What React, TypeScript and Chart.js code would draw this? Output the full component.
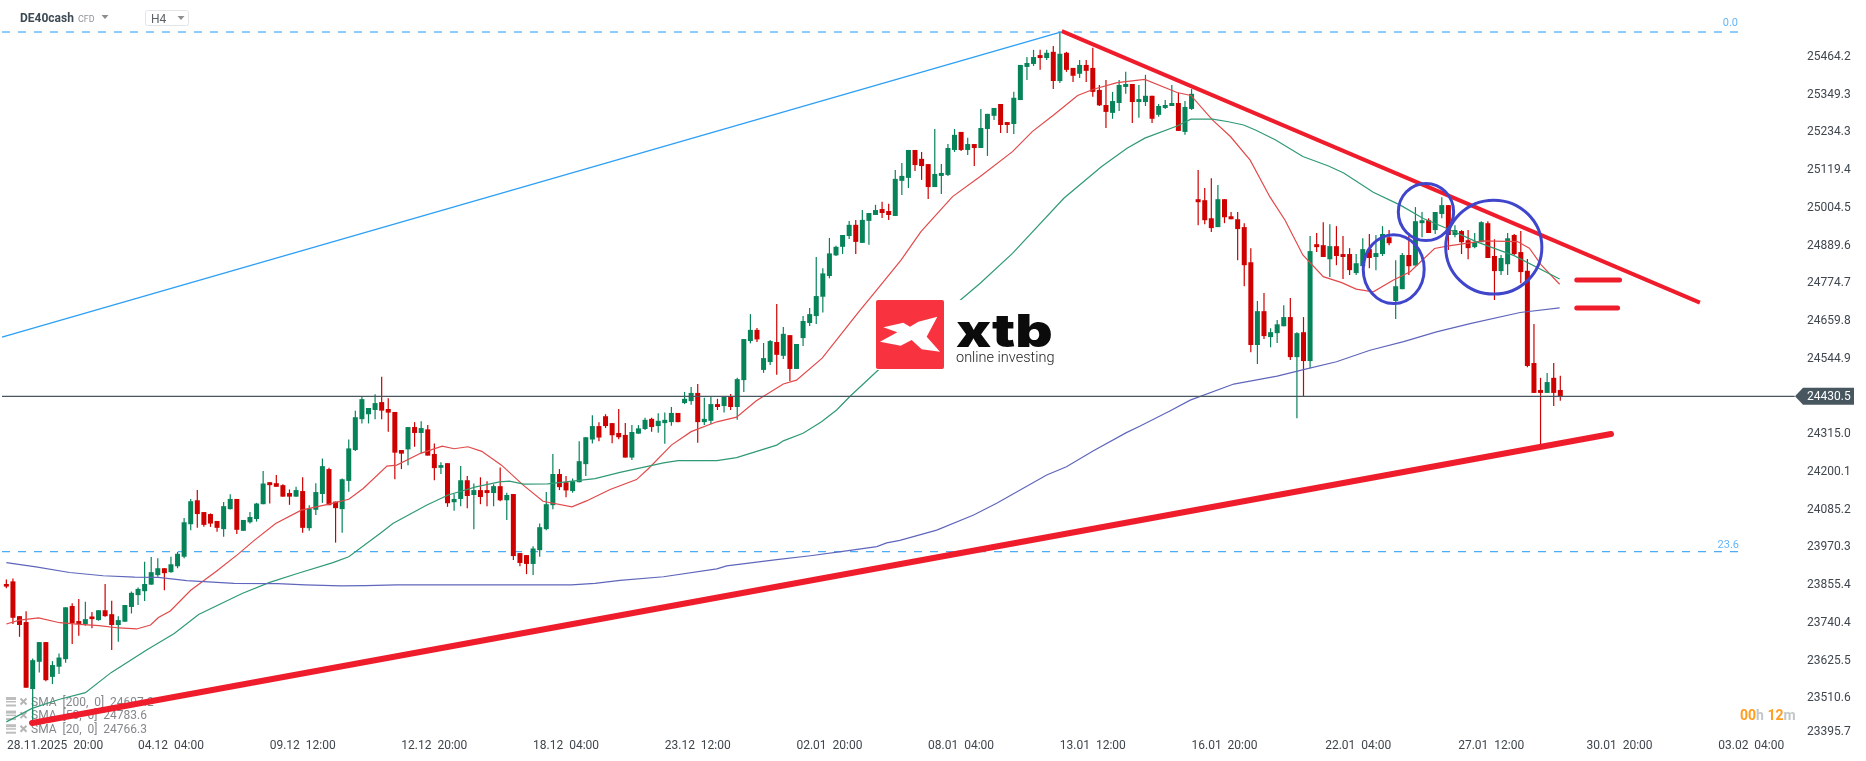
import { useEffect, useRef } from 'react';
import { Chart, registerables } from 'chart.js';

Chart.register(...registerables);

// candles, oldest first
const opens = [
  23859, 23867, 23761, 23743, 23539, 23622, 23682, 23576, 23607, 23630, 23792, 23746, 23736, 23760, 23749, 23779, 23767, 23734, 23744, 23789,
  23825, 23837, 23857, 23886, 23907, 23895, 23913, 23942, 24041, 24114, 24078, 24072, 24051, 24026, 24087, 24118, 24021, 24047, 24057, 24102,
  24169, 24166, 24160, 24136, 24125, 24142, 24029, 24085, 24133, 24209, 24110, 24087, 24173, 24267, 24361, 24376, 24389, 24413, 24392, 24383,
  24267, 24269, 24337, 24319, 24330, 24255, 24213, 24227, 24108, 24118, 24175, 24130, 24145, 24145, 24136, 24157, 24114, 24133, 23953, 23947,
  23920, 23962, 24026, 24099, 24194, 24169, 24142, 24169, 24224, 24299, 24340, 24370, 24349, 24319, 24313, 24244, 24317, 24331, 24362, 24340,
  24349, 24352, 24380, 24410, 24416, 24441, 24352, 24356, 24407, 24401, 24430, 24398, 24480, 24599, 24633, 24511, 24535, 24596, 24554, 24617,
  24514, 24608, 24654, 24675, 24734, 24797, 24860, 24886, 24919, 24953, 24898, 24965, 24983, 25001, 24995, 24980, 25087, 25096, 25181, 25154,
  25138, 25068, 25102, 25105, 25181, 25236, 25181, 25199, 25187, 25245, 25285, 25321, 25266, 25260, 25333, 25434, 25443, 25470, 25461, 25480,
  25391, 25477, 25431, 25413, 25440, 25431, 25364, 25318, 25294, 25324, 25373, 25382, 25327, 25327, 25346, 25288, 25309, 25315, 25324, 25236,
  25306, 25031, 25028, 24973, 24946, 25031, 24979, 24970, 24946, 24839, 24587, 24690, 24611, 24623, 24644, 24672, 24550, 24626, 24538, 24894,
  24891, 24848, 24888, 24864, 24864, 24806, 24827, 24879, 24855, 24864, 24915, 24721, 24757, 24861, 24829, 24958, 24967, 24937, 24986, 25013,
  24922, 24934, 24906, 24885, 24900, 24958, 24858, 24812, 24833, 24922, 24870, 24813, 24532, 24450, 24441, 24487, 24450,
];
const closes = [
  23851, 23756, 23734, 23543, 23627, 23682, 23566, 23612, 23635, 23788, 23739, 23737, 23752, 23752, 23779, 23761, 23734, 23749, 23795, 23832,
  23844, 23859, 23895, 23907, 23892, 23919, 23951, 24047, 24111, 24072, 24039, 24043, 24030, 24096, 24118, 24024, 24054, 24063, 24104, 24165,
  24160, 24155, 24125, 24125, 24145, 24030, 24089, 24139, 24218, 24099, 24090, 24178, 24272, 24367, 24422, 24395, 24410, 24387, 24381, 24259,
  24256, 24337, 24319, 24334, 24250, 24212, 24221, 24105, 24118, 24175, 24127, 24145, 24124, 24136, 24157, 24114, 24130, 23944, 23923, 23920,
  23967, 24032, 24102, 24194, 24154, 24144, 24172, 24233, 24306, 24340, 24305, 24340, 24312, 24306, 24244, 24322, 24333, 24359, 24337, 24356,
  24359, 24380, 24352, 24423, 24441, 24352, 24362, 24407, 24398, 24430, 24398, 24483, 24605, 24633, 24604, 24547, 24599, 24557, 24621, 24514,
  24590, 24660, 24681, 24736, 24805, 24866, 24886, 24922, 24953, 24901, 24968, 24989, 24998, 24989, 24983, 25093, 25102, 25181, 25135, 25132,
  25068, 25108, 25111, 25187, 25227, 25181, 25199, 25187, 25248, 25291, 25309, 25257, 25257, 25340, 25440, 25446, 25464, 25461, 25477, 25391,
  25474, 25425, 25407, 25440, 25422, 25358, 25317, 25297, 25330, 25379, 25382, 25327, 25336, 25346, 25276, 25315, 25318, 25324, 25239, 25312,
  25352, 25022, 24967, 24943, 25031, 24976, 24970, 24940, 24830, 24587, 24690, 24614, 24626, 24650, 24672, 24550, 24623, 24538, 24873, 24885,
  24855, 24888, 24858, 24855, 24815, 24836, 24879, 24852, 24867, 24925, 24897, 24766, 24861, 24827, 24964, 24967, 24928, 24992, 25013, 24922,
  24937, 24900, 24882, 24900, 24961, 24852, 24812, 24852, 24912, 24864, 24809, 24523, 24441, 24441, 24474, 24441, 24431,
];
const highs = [
  23873, 23876, 23761, 23776, 23632, 23682, 23682, 23624, 23647, 23788, 23800, 23813, 23805, 23774, 23779, 23859, 23808, 23761, 23795, 23836,
  23848, 23927, 23941, 23937, 23907, 23942, 23957, 24060, 24118, 24145, 24078, 24074, 24051, 24109, 24132, 24118, 24054, 24078, 24106, 24203,
  24169, 24191, 24163, 24147, 24155, 24184, 24099, 24166, 24241, 24213, 24110, 24180, 24299, 24387, 24429, 24395, 24437, 24490, 24425, 24383,
  24267, 24337, 24352, 24355, 24343, 24287, 24230, 24227, 24133, 24218, 24188, 24165, 24184, 24172, 24163, 24214, 24137, 24133, 23953, 23947,
  23974, 24043, 24139, 24255, 24209, 24188, 24180, 24294, 24306, 24373, 24352, 24376, 24349, 24392, 24349, 24343, 24343, 24365, 24365, 24379,
  24381, 24398, 24380, 24444, 24459, 24468, 24426, 24429, 24423, 24430, 24438, 24487, 24605, 24681, 24639, 24593, 24602, 24712, 24642, 24617,
  24590, 24675, 24700, 24855, 24821, 24913, 24889, 24922, 24965, 24968, 24998, 24989, 25014, 25023, 25017, 25120, 25141, 25181, 25181, 25175,
  25138, 25245, 25138, 25199, 25245, 25236, 25218, 25199, 25306, 25291, 25309, 25321, 25266, 25358, 25440, 25464, 25486, 25486, 25486, 25498,
  25541, 25480, 25431, 25455, 25455, 25492, 25379, 25394, 25358, 25394, 25419, 25382, 25379, 25410, 25346, 25321, 25333, 25379, 25355, 25330,
  25367, 25120, 25065, 25095, 25074, 25031, 24992, 24992, 24958, 24882, 24721, 24745, 24638, 24663, 24708, 24730, 24626, 24672, 24919, 24928,
  24961, 24955, 24949, 24919, 24882, 24864, 24912, 24925, 24922, 24949, 24937, 24845, 24867, 24919, 25007, 24992, 24973, 24992, 25037, 25013,
  24952, 24937, 24937, 24928, 24964, 24964, 24909, 24861, 24928, 24925, 24934, 24849, 24651, 24487, 24502, 24532, 24493,
];
const lows = [
  23846, 23737, 23698, 23543, 23444, 23589, 23563, 23554, 23585, 23619, 23676, 23701, 23732, 23724, 23747, 23759, 23658, 23683, 23744, 23769,
  23795, 23807, 23857, 23881, 23840, 23893, 23907, 23937, 24023, 24030, 24033, 24033, 24018, 24003, 24086, 24011, 24020, 24043, 24049, 24102,
  24104, 24155, 24125, 24100, 24125, 24015, 24021, 24069, 24106, 24099, 23985, 24015, 24140, 24264, 24348, 24348, 24361, 24361, 24323, 24178,
  24209, 24221, 24277, 24257, 24250, 24175, 24194, 24094, 24082, 24096, 24090, 24026, 24102, 24096, 24096, 24111, 24054, 23932, 23913, 23889,
  23886, 23942, 24023, 24087, 24145, 24123, 24137, 24169, 24188, 24287, 24294, 24334, 24288, 24300, 24244, 24237, 24316, 24328, 24323, 24320,
  24286, 24341, 24352, 24407, 24405, 24289, 24343, 24346, 24389, 24381, 24389, 24359, 24444, 24592, 24596, 24502, 24526, 24496, 24544, 24477,
  24514, 24584, 24645, 24651, 24686, 24790, 24858, 24864, 24910, 24864, 24898, 24892, 24983, 24974, 24968, 24980, 25044, 25065, 25117, 25090,
  25032, 25068, 25047, 25102, 25175, 25178, 25166, 25132, 25187, 25163, 25272, 25233, 25233, 25230, 25333, 25394, 25437, 25425, 25455, 25367,
  25385, 25419, 25388, 25400, 25388, 25343, 25315, 25248, 25276, 25300, 25352, 25263, 25279, 25315, 25263, 25282, 25306, 25315, 25239, 25227,
  25303, 24952, 24955, 24931, 24946, 24958, 24970, 24845, 24766, 24565, 24529, 24605, 24580, 24593, 24644, 24541, 24364, 24431, 24516, 24870,
  24855, 24794, 24830, 24788, 24800, 24800, 24827, 24821, 24815, 24858, 24891, 24666, 24757, 24800, 24829, 24915, 24928, 24925, 24973, 24876,
  24915, 24864, 24848, 24882, 24900, 24852, 24724, 24800, 24800, 24861, 24775, 24519, 24441, 24283, 24441, 24401, 24417,
];

// moving averages, read where the line bends (candle position, price)
const sma20At = [
  0, 2, 4.9, 8.1, 11.1, 14.1, 17.1, 19.8, 21.9, 23.1, 24.9, 28, 31.9, 35.2, 37.6, 40.9, 44.8, 49, 52, 54.2, 57.8, 59.3, 62.9, 66.2, 68, 70.1,
  72.2, 75.2, 78.5, 81.5, 85.9, 88.1, 91.7, 95.7, 97.5, 101, 104, 107.9, 110.9, 113.9, 118, 120, 123.9, 129.3, 132.6, 135.9, 138.9, 143.7,
  147.9, 152.8, 155.8, 159.1, 162.7, 165.1, 168.7, 172.9, 177.8, 179.9, 183.2, 185.9, 188.9, 191.9, 194.2, 196.9, 200, 202.8, 205, 207.6,
  210.6, 213.2, 216.9, 218.8, 224.3, 229.5, 231.3, 233.1, 235.9,
];
const sma20 = [
  23737, 23749, 23756, 23741, 23736, 23732, 23725, 23722, 23734, 23757, 23777, 23840, 23898, 23950, 23991, 24043, 24084, 24102, 24117, 24150,
  24218, 24221, 24257, 24279, 24271, 24277, 24263, 24221, 24160, 24111, 24094, 24112, 24147, 24177, 24210, 24282, 24323, 24353, 24367, 24417,
  24468, 24480, 24547, 24684, 24765, 24846, 24932, 25039, 25100, 25176, 25237, 25288, 25347, 25366, 25386, 25396, 25356, 25347, 25272, 25222,
  25150, 25038, 24967, 24861, 24795, 24777, 24757, 24749, 24784, 24810, 24881, 24888, 24904, 24902, 24882, 24831, 24772,
];
const sma50At = [
  0, 3.9, 8.1, 12, 15.9, 21.3, 25.5, 29.2, 35.8, 40, 44.2, 49.6, 52, 56.9, 58.7, 63.8, 67.1, 71.3, 74.9, 76.4, 78.6, 82.2, 89.4, 93.2, 99.8,
  102, 107.9, 110.9, 117, 118, 121, 123.8, 126.1, 128.1, 132.7, 144.9, 147.9, 152.8, 160.6, 166.3, 170.2, 172.9, 177.8, 179.9, 183.2, 185.6,
  187.9, 189.7, 192.7, 196.9, 200.8, 203.1, 207.6, 211.7, 215.2, 218.8, 223.3, 228.9, 235.9,
];
const sma50 = [
  23439, 23480, 23508, 23528, 23589, 23658, 23708, 23766, 23830, 23864, 23891, 23924, 23942, 24015, 24043, 24099, 24130, 24155, 24170, 24172,
  24163, 24164, 24180, 24199, 24228, 24235, 24235, 24244, 24282, 24295, 24318, 24353, 24389, 24430, 24516, 24724, 24775, 24866, 25034, 25130,
  25186, 25217, 25254, 25275, 25275, 25267, 25257, 25242, 25212, 25161, 25132, 25111, 25052, 25013, 24972, 24942, 24901, 24860, 24788,
];
const sma200At = [
  0, 4.5, 9.6, 14.7, 19.5, 23.1, 27.4, 34.6, 41.2, 45.4, 50.8, 54.5, 59.3, 85.8, 89.4, 93.2, 99.8, 107.9, 109.4, 117, 122.1, 127.6, 132.2,
  133.7, 135.7, 141.3, 146.9, 150.4, 158, 161, 165.1, 170.1, 172.2, 176.7, 179.8, 186.4, 193, 197, 202, 207.1, 212.2, 217.2, 222.3, 229.9, 235.9,
];
const sma200 = [
  23924, 23911, 23894, 23884, 23880, 23879, 23869, 23861, 23860, 23856, 23853, 23854, 23856, 23856, 23861, 23870, 23881, 23905, 23914, 23933,
  23945, 23960, 23973, 23984, 23992, 24023, 24069, 24105, 24191, 24216, 24265, 24320, 24340, 24386, 24419, 24468, 24492, 24512, 24536, 24571,
  24597, 24627, 24652, 24686, 24700,
];

// drawings on the chart: [candle position, price] of each end
const supportLine = [[3.9, 23435.5], [243.7, 24315.8]];
const resistanceLine = [[160.3, 25543], [257.2, 24715.8]];
const swingLine = [[-0.66, 24611], [160.1, 25540]];
const targetA = [[238.5, 24784.9], [245, 24784.9]];
const targetB = [[238.5, 24699.6], [244.7, 24699.6]];

const lastPrice = 24430.5;
const fib0 = 25540.3;
const fib236 = 23957.3;

// blue rings: centre candle, centre price, radius in candles, radius in price
const rings = [
  [210.7, 24818, 4.63, 105],
  [215.6, 24992, 4.2, 87],
  [225.9, 24885, 7.3, 143],
];

const xTickAt = [7.4, 25, 45, 65, 85, 105, 125, 145, 165, 185, 205.3, 225.5, 245, 265];
const xTickLabels = [
  '28.11.2025  20:00', '04.12  04:00', '09.12  12:00', '12.12  20:00', '18.12  04:00', '23.12  12:00', '02.01  20:00',
  '08.01  04:00', '13.01  12:00', '16.01  20:00', '22.01  04:00', '27.01  12:00', '30.01  20:00', '03.02  04:00',
];
const yTickAt = [
  25464.2, 25349.3, 25234.3, 25119.4, 25004.5, 24889.6, 24774.7, 24659.8, 24544.9, 24315, 24200.1, 24085.2, 23970.3, 23855.4, 23740.4,
  23625.5, 23510.6, 23408,
];
const yTickLabels = [
  '25464.2', '25349.3', '25234.3', '25119.4', '25004.5', '24889.6', '24774.7', '24659.8', '24544.9', '24315.0', '24200.1', '24085.2',
  '23970.3', '23855.4', '23740.4', '23625.5', '23510.6', '23395.7',
];
const smaLegend = ['SMA  [200,  0]  24697.2', 'SMA  [50,  0]  24783.6', 'SMA  [20,  0]  24766.3'];

const UP = '#07835a';
const DOWN = '#cf0000';
const FONT = 'Roboto, sans-serif';

const toPoints = (at: number[], values: number[]) => values.map((y, k) => ({ x: at[k], y }));
const segment = (ends: number[][]) => ends.map(([x, y]) => ({ x, y }));
const candleColors = closes.map((c, i) => (c >= opens[i] ? UP : DOWN));

function lineSet(data: { x: number; y: number }[], color: string, width: number, order: number, extra = {}) {
  return {
    type: 'line' as const,
    data,
    borderColor: color,
    borderWidth: width,
    pointRadius: 0,
    tension: 0,
    order,
    ...extra,
  };
}

// legend rows sit under the marks
const legendPlugin = {
  id: 'smaLegend',
  beforeDatasetsDraw(chart: Chart) {
    const { ctx } = chart;
    ctx.save();
    smaLegend.forEach((text, k) => {
      const y = 702 + k * 13.6;
      ctx.fillStyle = '#bdbdbd';
      ctx.fillRect(6, y - 5, 10, 3);
      ctx.fillRect(6, y - 1, 10, 1.5);
      ctx.fillRect(6, y + 2.5, 10, 2);
      ctx.strokeStyle = '#b5b5b5';
      ctx.lineWidth = 2;
      ctx.beginPath();
      ctx.moveTo(20.5, y - 3.5);
      ctx.lineTo(26.5, y + 2.5);
      ctx.moveTo(26.5, y - 3.5);
      ctx.lineTo(20.5, y + 2.5);
      ctx.stroke();
      ctx.fillStyle = '#85888b';
      ctx.font = `12px ${FONT}`;
      ctx.textAlign = 'left';
      ctx.textBaseline = 'middle';
      ctx.fillText(text, 31, y + 0.5);
    });
    ctx.restore();
  },
};

const overlayPlugin = {
  id: 'overlay',
  afterDatasetsDraw(chart: Chart) {
    const { ctx, scales } = chart;
    const sx = scales.x;
    const sy = scales.y;
    ctx.save();

    // rings
    ctx.strokeStyle = '#3f46cc';
    ctx.lineWidth = 3;
    rings.forEach(([cx, cy, rx, ry]) => {
      const px = sx.getPixelForValue(cx);
      const py = sy.getPixelForValue(cy);
      ctx.beginPath();
      ctx.ellipse(px, py, sx.getPixelForValue(cx + rx) - px, py - sy.getPixelForValue(cy + ry), 0, 0, Math.PI * 2);
      ctx.stroke();
    });

    // fibonacci labels
    ctx.font = `11px ${FONT}`;
    ctx.fillStyle = '#64b5f6';
    ctx.textAlign = 'right';
    ctx.textBaseline = 'alphabetic';
    ctx.fillText('0.0', 1738, sy.getPixelForValue(fib0) - 6);
    ctx.fillText('23.6', 1739, sy.getPixelForValue(fib236) - 4);

    // header
    ctx.textAlign = 'left';
    ctx.textBaseline = 'middle';
    ctx.font = `bold 12px ${FONT}`;
    ctx.fillStyle = '#3d4a54';
    ctx.fillText('DE40cash', 20, 19);
    ctx.font = `9px ${FONT}`;
    ctx.fillStyle = '#8f959a';
    ctx.fillText('CFD', 78, 20);
    ctx.strokeStyle = '#e3e5e7';
    ctx.lineWidth = 1;
    ctx.beginPath();
    ctx.roundRect(145.5, 10.5, 43, 15, 2);
    ctx.stroke();
    ctx.font = `12px ${FONT}`;
    ctx.fillStyle = '#5b6268';
    ctx.fillText('H4', 151, 19.5);
    ctx.fillStyle = '#8e8e8e';
    [[105, 15], [181, 16]].forEach(([tx, ty]) => {
      ctx.beginPath();
      ctx.moveTo(tx - 3.5, ty);
      ctx.lineTo(tx + 3.5, ty);
      ctx.lineTo(tx, ty + 4);
      ctx.closePath();
      ctx.fill();
    });

    // logo
    ctx.fillStyle = '#ffffff';
    ctx.fillRect(876, 300, 184, 70);
    ctx.fillStyle = '#f9323f';
    ctx.beginPath();
    ctx.roundRect(876, 300, 68, 69, 2);
    ctx.fill();
    ctx.fillStyle = '#ffffff';
    const mark = [[232, 110], [175, 125], [150, 140], [130, 128], [70, 142], [112, 157], [60, 185], [122, 197], [155, 180], [185, 208], [240, 215], [200, 170]];
    ctx.beginPath();
    mark.forEach(([mx, my], k) => {
      const qx = 860 + mx / 3;
      const qy = 280 + my / 3;
      if (k === 0) ctx.moveTo(qx, qy);
      else ctx.lineTo(qx, qy);
    });
    ctx.closePath();
    ctx.fill();
    ctx.fillStyle = '#0b0b0b';
    ctx.textBaseline = 'alphabetic';
    // the wordmark is wider than any installed face, so stretch it
    ctx.save();
    ctx.translate(956, 347);
    ctx.scale(1.26, 1);
    ctx.font = '900 46px Inter, sans-serif';
    ctx.fillText('xtb', 0, 0);
    ctx.restore();
    ctx.font = `300 14.5px ${FONT}`;
    ctx.fillStyle = '#1c1c1c';
    ctx.fillText('online investing', 956, 362);

    ctx.restore();
  },
  afterDraw(chart: Chart) {
    const { ctx, scales } = chart;
    const y = scales.y.getPixelForValue(lastPrice);
    ctx.save();

    // price tag
    ctx.fillStyle = '#47565f';
    ctx.beginPath();
    ctx.moveTo(1795, y);
    ctx.lineTo(1803, y - 8.5);
    ctx.lineTo(1854, y - 8.5);
    ctx.lineTo(1854, y + 8.5);
    ctx.lineTo(1803, y + 8.5);
    ctx.closePath();
    ctx.fill();
    ctx.fillStyle = '#ffffff';
    ctx.font = `12px ${FONT}`;
    ctx.textAlign = 'left';
    ctx.textBaseline = 'middle';
    ctx.fillText(lastPrice.toFixed(1), 1807, y + 1);

    // countdown
    ctx.font = `bold 14px ${FONT}`;
    let x = 1740;
    [['00', '#ff9d21'], ['h ', '#c3c6c9'], ['12', '#ff9d21'], ['m', '#c3c6c9']].forEach(([text, color]) => {
      ctx.fillStyle = color;
      ctx.fillText(text, x, 716.5);
      x += ctx.measureText(text).width;
    });
    ctx.restore();
  },
};

export default function App() {
  const canvasRef = useRef<HTMLCanvasElement | null>(null);

  useEffect(() => {
    const canvas = canvasRef.current;
    if (!canvas) {
      return undefined;
    }

    const chart = new Chart(canvas, {
      type: 'bar',
      data: {
        datasets: [
          {
            data: highs.map((h, i) => ({ x: i, y: [lows[i], h] })),
            backgroundColor: candleColors,
            barThickness: 1.2,
            order: 4,
          },
          {
            data: closes.map((c, i) => ({ x: i, y: [opens[i], c] })),
            backgroundColor: candleColors,
            barThickness: 5,
            order: 3,
          },
          lineSet(toPoints(sma200At, sma200), '#5f66bb', 1.2, 2),
          lineSet(toPoints(sma50At, sma50), '#2f9a74', 1.2, 2),
          lineSet(toPoints(sma20At, sma20), '#e2494a', 1.2, 2),
          lineSet(segment([[-0.66, lastPrice], [271.6, lastPrice]]), '#47565f', 1.3, 1),
          lineSet(segment([[-0.66, fib0], [263, fib0]]), '#2196f3', 1, 5, { borderDash: [8, 8] }),
          lineSet(segment([[-0.66, fib236], [263, fib236]]), '#2196f3', 1, 5, { borderDash: [8, 8] }),
          lineSet(segment(swingLine), '#2d9ff5', 1.3, 1),
          lineSet(segment(supportLine), '#ef1c2c', 6, 0, { borderCapStyle: 'round' }),
          lineSet(segment(resistanceLine), '#ef1c2c', 4, 0),
          lineSet(segment(targetA), '#ef1c2c', 5, 0, { borderCapStyle: 'round' }),
          lineSet(segment(targetB), '#ef1c2c', 5, 0, { borderCapStyle: 'round' }),
        ] as any,
      },
      options: {
        animation: false,
        responsive: false,
        layout: { padding: 0 },
        datasets: {
          bar: { grouped: false, barPercentage: 1, categoryPercentage: 1, borderWidth: 0, inflateAmount: 0 },
        } as any,
        plugins: { legend: { display: false }, title: { display: false }, tooltip: { enabled: false } },
        scales: {
          x: {
            type: 'linear',
            offset: false,
            min: -0.964,
            max: 272.1,
            grid: { display: false, drawTicks: false },
            border: { display: false },
            afterBuildTicks: (scale: any) => {
              scale.ticks = xTickAt.map((value) => ({ value }));
            },
            afterFit: (scale: any) => {
              scale.height = 24;
            },
            ticks: {
              autoSkip: false,
              maxRotation: 0,
              padding: 2,
              color: '#3f464d',
              font: { family: FONT, size: 12 },
              callback: (_value: any, index: number) => xTickLabels[index],
            },
          },
          y: {
            type: 'linear',
            position: 'right',
            min: 23392.9,
            max: 25637.8,
            grid: { display: false, drawTicks: false },
            border: { display: false },
            afterBuildTicks: (scale: any) => {
              scale.ticks = yTickAt.map((value) => ({ value }));
            },
            afterFit: (scale: any) => {
              // no room kept above the plot for the top label
              scale.width = 68;
              scale.paddingTop = 0;
              scale.paddingBottom = 0;
            },
            ticks: {
              autoSkip: false,
              padding: 9,
              color: '#3f464d',
              font: { family: FONT, size: 12 },
              callback: (_value: any, index: number) => yTickLabels[index],
            },
          },
        },
      },
      plugins: [legendPlugin, overlayPlugin],
    } as any);

    return () => {
      chart.destroy();
    };
  }, []);

  return (
    <div style={{ position: 'fixed', left: 0, top: 0, width: 1866, height: 761, background: '#fff' }}>
      <canvas ref={canvasRef} width={1866} height={761} style={{ display: 'block' }} />
    </div>
  );
}
